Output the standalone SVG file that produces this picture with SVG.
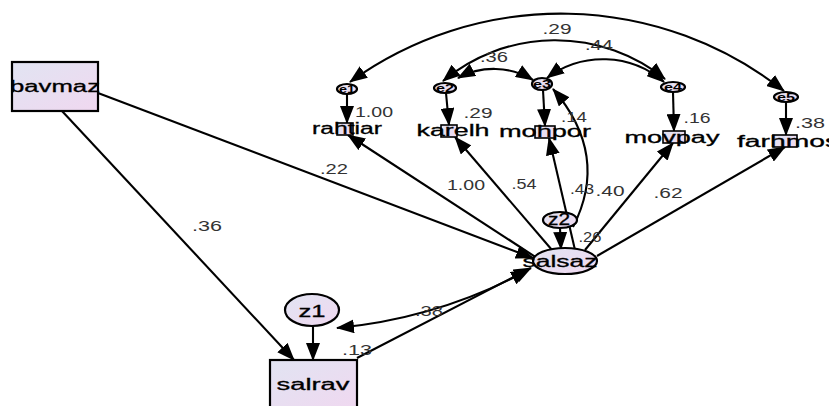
<svg xmlns="http://www.w3.org/2000/svg" width="829" height="406" viewBox="0 0 829 406">
<defs>
<linearGradient id="fillg" x1="0" y1="0" x2="1" y2="1">
<stop offset="0" stop-color="#e1e4f2"/>
<stop offset="1" stop-color="#f0d8f0"/>
</linearGradient>
<marker id="ah" markerUnits="userSpaceOnUse" markerWidth="18" markerHeight="14" viewBox="0 0 18 14" refX="17" refY="7" orient="auto-start-reverse">
<path d="M0,0 L18,7 L0,14 Z" fill="#000"/>
</marker>
<style>
.box{fill:url(#fillg);stroke:#000;stroke-width:2.2}
.sbox{fill:url(#fillg);stroke:#000;stroke-width:1.6}
.ell{fill:url(#fillg);stroke:#000;stroke-width:2.2}
.nt{font-family:"Liberation Sans",Arial,sans-serif;font-size:16px;fill:#000;stroke:#000;stroke-width:0.3;text-anchor:middle}
.et{font-family:"Liberation Sans",Arial,sans-serif;font-size:10px;fill:#000;font-weight:bold;text-anchor:middle}
.lb{font-family:"Liberation Sans",Arial,sans-serif;font-size:14px;fill:#333;text-anchor:middle}
.c{fill:none;stroke:#000;stroke-width:2.1}
</style>
</defs>
<rect width="829" height="406" fill="#fff"/>

<g id="connectors">
<path class="c" d="M350 82 A360 360 0 0 1 784 91" marker-start="url(#ah)" marker-end="url(#ah)"/>
<path class="c" d="M443 81 A175 175 0 0 1 665 79" marker-start="url(#ah)" marker-end="url(#ah)"/>
<path class="c" d="M458 78 A75 75 0 0 1 533 80" marker-start="url(#ah)" marker-end="url(#ah)"/>
<path class="c" d="M547 78 A93 93 0 0 1 664 82" marker-start="url(#ah)" marker-end="url(#ah)"/>
<line class="c" x1="347" y1="94" x2="347" y2="123" marker-end="url(#ah)"/>
<line class="c" x1="446" y1="93" x2="449" y2="125" marker-end="url(#ah)"/>
<line class="c" x1="543" y1="90" x2="545" y2="126" marker-end="url(#ah)"/>
<line class="c" x1="673" y1="92" x2="674" y2="131" marker-end="url(#ah)"/>
<line class="c" x1="786" y1="102" x2="786" y2="135" marker-end="url(#ah)"/>
<line class="c" x1="537" y1="258" x2="348" y2="135" marker-end="url(#ah)"/>
<line class="c" x1="552" y1="250" x2="455" y2="137" marker-end="url(#ah)"/>
<line class="c" x1="575" y1="250" x2="549" y2="138" marker-end="url(#ah)"/>
<line class="c" x1="585" y1="250" x2="673" y2="143" marker-end="url(#ah)"/>
<line class="c" x1="597" y1="256" x2="785" y2="147" marker-end="url(#ah)"/>
<path class="c" d="M573 227 Q610 155 553 89" marker-end="url(#ah)"/>
<line class="c" x1="560" y1="228" x2="561" y2="249" marker-end="url(#ah)"/>
<line class="c" x1="98" y1="93" x2="533" y2="258" marker-end="url(#ah)"/>
<line class="c" x1="62" y1="111" x2="294" y2="360" marker-end="url(#ah)"/>
<line class="c" x1="357" y1="358" x2="531" y2="268" marker-end="url(#ah)"/>
<line class="c" x1="313" y1="326" x2="313" y2="360" marker-end="url(#ah)"/>
<path class="c" d="M337 328 Q440 318 528 270" marker-start="url(#ah)" marker-end="url(#ah)"/>
</g>

<g id="bavmaz"><rect class="box" x="12" y="62" width="86" height="49"/><text class="nt" x="55" y="92" textLength="90" lengthAdjust="spacingAndGlyphs">bavmaz</text></g>
<g id="salrav"><rect class="box" x="270" y="360" width="87" height="50"/><text class="nt" x="313" y="390" textLength="73" lengthAdjust="spacingAndGlyphs">salrav</text></g>
<g id="z1"><ellipse class="ell" cx="312" cy="310" rx="27" ry="16"/><text class="nt" x="312" y="317" textLength="27" lengthAdjust="spacingAndGlyphs">z1</text></g>
<g id="salsaz"><ellipse class="ell" cx="565" cy="261" rx="32" ry="13"/><text class="nt" x="560" y="267" textLength="75" lengthAdjust="spacingAndGlyphs">salsaz</text></g>
<g id="z2"><ellipse class="ell" cx="560" cy="220" rx="17" ry="8"/><text class="nt" x="559" y="225" textLength="22" lengthAdjust="spacingAndGlyphs">z2</text></g>

<g id="e1"><ellipse class="ell" cx="347" cy="89" rx="10" ry="5"/><text class="et" x="347" y="93" textLength="16" lengthAdjust="spacingAndGlyphs">e1</text></g>
<g id="e2"><ellipse class="ell" cx="445" cy="88" rx="11" ry="5"/><text class="et" x="445" y="92" textLength="18" lengthAdjust="spacingAndGlyphs">e2</text></g>
<g id="e3"><ellipse class="ell" cx="542" cy="84" rx="10" ry="6"/><text class="et" x="542" y="88" textLength="18" lengthAdjust="spacingAndGlyphs">e3</text></g>
<g id="e4"><ellipse class="ell" cx="673" cy="87" rx="12" ry="5"/><text class="et" x="673" y="91" textLength="18" lengthAdjust="spacingAndGlyphs">e4</text></g>
<g id="e5"><ellipse class="ell" cx="786" cy="97" rx="12" ry="5"/><text class="et" x="786" y="101" textLength="18" lengthAdjust="spacingAndGlyphs">e5</text></g>

<g id="rahtiar"><rect class="sbox" x="337" y="123" width="16" height="12"/><text class="nt" x="347" y="134" textLength="70" lengthAdjust="spacingAndGlyphs">rahtiar</text></g>
<g id="karelh"><rect class="sbox" x="441" y="125" width="16" height="12"/><text class="nt" x="453" y="136" textLength="73" lengthAdjust="spacingAndGlyphs">karelh</text></g>
<g id="mohpor"><rect class="sbox" x="535" y="126" width="20" height="12"/><text class="nt" x="545" y="137" textLength="92" lengthAdjust="spacingAndGlyphs">mohpor</text></g>
<g id="movpay"><rect class="sbox" x="663" y="131" width="22" height="12"/><text class="nt" x="672" y="143" textLength="95" lengthAdjust="spacingAndGlyphs">movpay</text></g>
<g id="farhmos"><rect class="sbox" x="773" y="135" width="24" height="12"/><text class="nt" x="788" y="147" textLength="102" lengthAdjust="spacingAndGlyphs">farhmos</text></g>

<g id="labels">
<text class="lb" x="557" y="34" textLength="29" lengthAdjust="spacingAndGlyphs">.29</text>
<text class="lb" x="599" y="50" textLength="28" lengthAdjust="spacingAndGlyphs">.44</text>
<text class="lb" x="494" y="62" textLength="28" lengthAdjust="spacingAndGlyphs">.36</text>
<text class="lb" x="374" y="117" textLength="38" lengthAdjust="spacingAndGlyphs">1.00</text>
<text class="lb" x="478" y="118" textLength="29" lengthAdjust="spacingAndGlyphs">.29</text>
<text class="lb" x="574" y="122" textLength="26" lengthAdjust="spacingAndGlyphs">.14</text>
<text class="lb" x="697" y="123" textLength="27" lengthAdjust="spacingAndGlyphs">.16</text>
<text class="lb" x="810" y="128" textLength="30" lengthAdjust="spacingAndGlyphs">.38</text>
<text class="lb" x="334" y="174" textLength="28" lengthAdjust="spacingAndGlyphs">.22</text>
<text class="lb" x="207" y="231" textLength="30" lengthAdjust="spacingAndGlyphs">.36</text>
<text class="lb" x="466" y="190" textLength="38" lengthAdjust="spacingAndGlyphs">1.00</text>
<text class="lb" x="524" y="189" textLength="25" lengthAdjust="spacingAndGlyphs">.54</text>
<text class="lb" x="582" y="194" textLength="24" lengthAdjust="spacingAndGlyphs">.43</text>
<text class="lb" x="610" y="196" textLength="29" lengthAdjust="spacingAndGlyphs">.40</text>
<text class="lb" x="668" y="198" textLength="29" lengthAdjust="spacingAndGlyphs">.62</text>
<text class="lb" x="590" y="242" textLength="23" lengthAdjust="spacingAndGlyphs">.26</text>
<text class="lb" x="429" y="316" textLength="28" lengthAdjust="spacingAndGlyphs">.38</text>
<text class="lb" x="357" y="355" textLength="30" lengthAdjust="spacingAndGlyphs">.13</text>
</g>
</svg>
